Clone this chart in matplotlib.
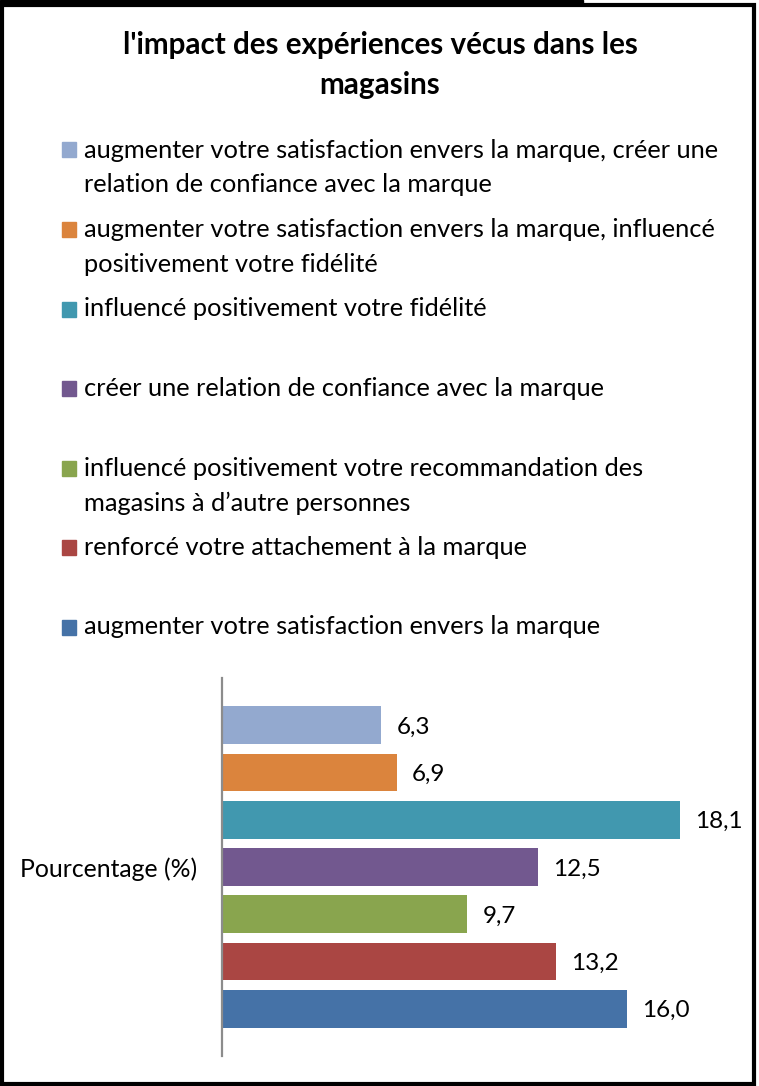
import matplotlib.pyplot as plt
from matplotlib.patches import Rectangle
import numpy as np

plt.rcParams['font.family'] = ['Lato', 'DejaVu Sans']

title = "l'impact des expériences vécus dans les\nmagasins"
category = 'Pourcentage (%)'

# series in Excel order (first series drawn at the bottom)
series = [
    'augmenter votre satisfaction envers la marque',
    'renforcé votre attachement à la marque',
    'influencé positivement votre recommandation des\nmagasins à d\u2019autre personnes',
    'créer une relation de confiance avec la marque',
    'influencé positivement votre fidélité',
    'augmenter votre satisfaction envers la marque, influencé\npositivement votre fidélité',
    'augmenter votre satisfaction envers la marque, créer une\nrelation de confiance avec la marque',
]
values = [16.0, 13.2, 9.7, 12.5, 18.1, 6.9, 6.3]
colours = ['#4572A7', '#AA4643', '#89A54E', '#72588F', '#4198AF', '#DB843D', '#93A9CF']

W, H = 759, 1086
fig = plt.figure(figsize=(W / 100, H / 100), dpi=100)

# plot area (pixel positions from the reference)
x0, x1, ytop, ybot = 222, 728, 678, 1056
ax = fig.add_axes([x0 / W, 1 - ybot / H, (x1 - x0) / W, (ybot - ytop) / H])

pos = np.arange(len(values))
ax.barh(pos, values, height=0.8, color=colours)
for p, v in zip(pos, values):
    ax.annotate(f'{v:.1f}'.replace('.', ','), (v, p), xytext=(11, -1.5),
                textcoords='offset points', va='center', ha='left', fontsize=17.5)

ax.set_xlim(0, 20)
ax.set_ylim(-1, 7)
ax.set_xticks([])
ax.set_yticks([3])
ax.set_yticklabels([category], fontsize=17.8)
ax.tick_params(axis='y', length=0, pad=18)
for s in ['top', 'right', 'bottom']:
    ax.spines[s].set_visible(False)
ax.spines['left'].set_color('#8c8c8c')
ax.spines['left'].set_linewidth(1.6)

# title
fig.text(380 / W, 1 - 65 / H, title, ha='center', va='center', fontsize=21.3,
         fontweight='bold', linespacing=1.48)

# legend, drawn by hand (top item = last series)
for k, i in enumerate(range(len(series) - 1, -1, -1)):
    yc = 150 + k * 79.5
    fig.patches.append(Rectangle((62 / W, 1 - (yc + 7.5) / H), 14 / W, 15 / H,
                                 transform=fig.transFigure, color=colours[i]))
    fig.text(84 / W, 1 - (yc - 11.5) / H, series[i], ha='left', va='top',
             fontsize=18.3, linespacing=1.62)

# frame
fig.patches.append(Rectangle((2 / W, 2 / H), 752 / W, 1079 / H, transform=fig.transFigure,
                             fill=False, ec='black', lw=3))
fig.patches.append(Rectangle((0, 1 - 5 / H), 583 / W, 5 / H, transform=fig.transFigure,
                             color='black'))

fig.savefig('out.png', dpi=100)
